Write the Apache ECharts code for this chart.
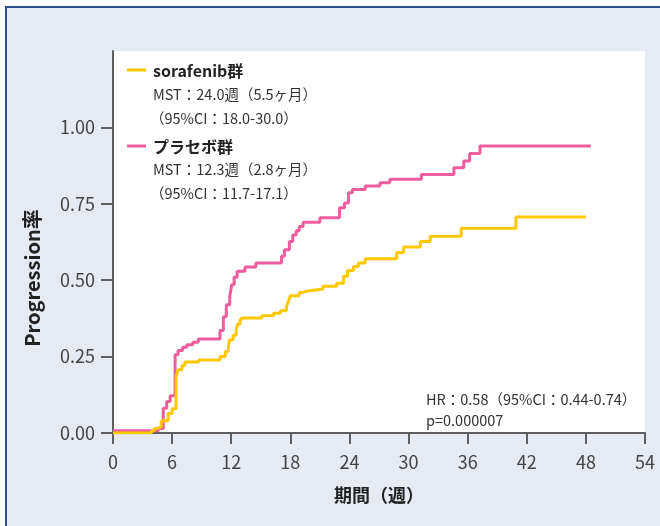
<!DOCTYPE html>
<html lang="ja">
<head>
    <meta charset="UTF-8">
    <title>Progression率</title>
    <style>
        html, body { margin: 0; padding: 0; background: #fff; }
        #main { width: 660px; height: 526px; }
    </style>
</head>
<body>
<div id="main"></div>
<script src="https://cdn.jsdelivr.net/npm/echarts@6/dist/echarts.min.js"></script>
<script>
    // 期間（週）と Progression率 ― 図から読み取った値
    var sorafenibWeek = [0, 3.9, 4.2, 4.5, 4.9, 5.6, 6.0, 6.4, 6.6, 7.0, 7.3, 8.7, 10.86, 11.4, 11.7, 11.85, 12.2, 12.5, 12.65, 12.9, 13.06,
        15.1, 16.3, 17.0, 17.6, 17.8, 18.0, 18.9, 19.25, 19.8, 21.3, 22.7, 23.4, 23.8, 24.4, 24.9, 25.6, 28.8, 29.5, 31.2, 32.2, 35.35, 40.9, 48.0];
    var sorafenibRate = [0, 0.007, 0.015, 0.02, 0.04, 0.064, 0.079, 0.185, 0.207, 0.221, 0.232, 0.239, 0.25, 0.267, 0.283, 0.305, 0.32, 0.338, 0.357, 0.368, 0.376,
        0.384, 0.392, 0.40, 0.414, 0.43, 0.449, 0.46, 0.465, 0.471, 0.48, 0.49, 0.513, 0.532, 0.545, 0.556, 0.57, 0.591, 0.609, 0.627, 0.644, 0.67, 0.707, 0.707];

    var placeboWeek = [0, 4.6, 5.1, 5.45, 5.8, 6.3, 6.6, 7.07, 7.5, 8.1, 8.66, 10.86, 11.2, 11.5, 11.85, 12.05, 12.3, 12.6, 13.4, 14.5,
        17.1, 17.4, 17.9, 18.25, 18.6, 18.9, 19.3, 21.0, 23.0, 23.5, 23.9, 24.3, 25.6, 27.1, 28.1, 31.3, 34.6, 35.6, 36.2, 37.25, 48.5];
    var placeboRate = [0.007, 0.015, 0.081, 0.103, 0.122, 0.256, 0.27, 0.281, 0.289, 0.297, 0.308, 0.335, 0.38, 0.42, 0.447, 0.485, 0.51, 0.529, 0.543, 0.556,
        0.578, 0.60, 0.627, 0.648, 0.662, 0.676, 0.69, 0.704, 0.737, 0.753, 0.786, 0.797, 0.808, 0.819, 0.83, 0.846, 0.868, 0.89, 0.915, 0.939, 0.939];

    var yTicks = [0, 0.25, 0.5, 0.75, 1];

    var sorafenibLegend = ['sorafenib群', 'MST：24.0週（5.5ヶ月）', '（95%CI：18.0-30.0）'];
    var placeboLegend = ['プラセボ群', 'MST：12.3週（2.8ヶ月）', '（95%CI：11.7-17.1）'];
    var hrNote = ['HR：0.58（95%CI：0.44-0.74）', 'p=0.000007'];

    function pairs(xs, ys) {
        return xs.map(function (x, i) { return [x, ys[i]]; });
    }

    var yellow = '#fdc800';
    var pink = '#ee5d9e';
    var axisColor = '#5f5f5f';
    var txt = '#333';
    var font = "'Liberation Sans Narrow', 'Noto Sans CJK JP', sans-serif";
    var jp = "'Noto Sans CJK JP', sans-serif";

    var myChart = echarts.init(document.getElementById('main'));

    var option = {
        backgroundColor: '#fff',
        animation: false,
        graphic: [
            {   // 外枠
                type: 'rect', z: -10, silent: true,
                shape: { x: 6, y: 7, width: 700, height: 600 },
                style: { fill: '#e6eaf2', stroke: '#2d4f8e', lineWidth: 2 }
            },
            {
                type: 'text', x: 32, y: 278, rotation: Math.PI / 2,
                style: { text: 'Progression率', font: 'bold 20px ' + jp, fill: '#222', align: 'center', verticalAlign: 'middle' }
            },
            // 凡例
            { type: 'line', shape: { x1: 127, y1: 70, x2: 146, y2: 70 }, style: { stroke: yellow, lineWidth: 3 } },
            { type: 'text', x: 153, y: 71, style: { text: sorafenibLegend[0], font: 'bold 16px ' + jp, fill: '#222', verticalAlign: 'middle' } },
            { type: 'text', x: 153, y: 94, style: { text: sorafenibLegend[1], font: '14.5px ' + jp, fill: txt, verticalAlign: 'middle' } },
            { type: 'text', x: 150, y: 118, style: { text: sorafenibLegend[2], font: '14.5px ' + jp, fill: txt, verticalAlign: 'middle' } },
            { type: 'line', shape: { x1: 127, y1: 146, x2: 146, y2: 146 }, style: { stroke: pink, lineWidth: 3 } },
            { type: 'text', x: 153, y: 147, style: { text: placeboLegend[0], font: 'bold 16px ' + jp, fill: '#222', verticalAlign: 'middle' } },
            { type: 'text', x: 153, y: 169, style: { text: placeboLegend[1], font: '14.5px ' + jp, fill: txt, verticalAlign: 'middle' } },
            { type: 'text', x: 150, y: 193, style: { text: placeboLegend[2], font: '14.5px ' + jp, fill: txt, verticalAlign: 'middle' } },
            // HR
            { type: 'text', x: 426, y: 399, style: { text: hrNote[0], font: '14.5px ' + jp, fill: txt, verticalAlign: 'middle' } },
            { type: 'text', x: 426, y: 420, style: { text: hrNote[1], font: '14.5px ' + jp, fill: txt, verticalAlign: 'middle' } }
        ],
        grid: {
            left: 113, right: 15, top: 51, bottom: 93,
            show: true, backgroundColor: '#fff', borderWidth: 0
        },
        xAxis: {
            type: 'value', min: 0, max: 54, interval: 6,
            name: '期間（週）', nameLocation: 'middle', nameGap: 53,
            nameTextStyle: { fontFamily: jp, fontSize: 18, fontWeight: 'bold', color: '#222' },
            axisLine: { lineStyle: { color: axisColor, width: 2 } },
            axisTick: { length: 11, lineStyle: { color: axisColor, width: 2 } },
            axisLabel: { fontFamily: font, fontSize: 18, color: '#444', margin: 20 },
            splitLine: { show: false }
        },
        yAxis: {
            type: 'value', min: 0, max: 1.25, interval: 0.25,
            axisLine: { show: true, lineStyle: { color: axisColor, width: 2 } },
            axisTick: { show: true, length: 12, customValues: yTicks, lineStyle: { color: axisColor, width: 2 } },
            axisLabel: {
                fontFamily: font, fontSize: 18, color: '#444', margin: 18, customValues: yTicks,
                formatter: function (v) { return v.toFixed(2); }
            },
            splitLine: { show: false }
        },
        series: [
            {
                name: 'sorafenib群', type: 'line', step: 'end', symbol: 'none',
                data: pairs(sorafenibWeek, sorafenibRate),
                lineStyle: { color: yellow, width: 3 }, z: 3
            },
            {
                name: 'プラセボ群', type: 'line', step: 'end', symbol: 'none',
                data: pairs(placeboWeek, placeboRate),
                lineStyle: { color: pink, width: 3 }, z: 2
            }
        ]
    };
    myChart.setOption(option);
</script>
</body>
</html>
